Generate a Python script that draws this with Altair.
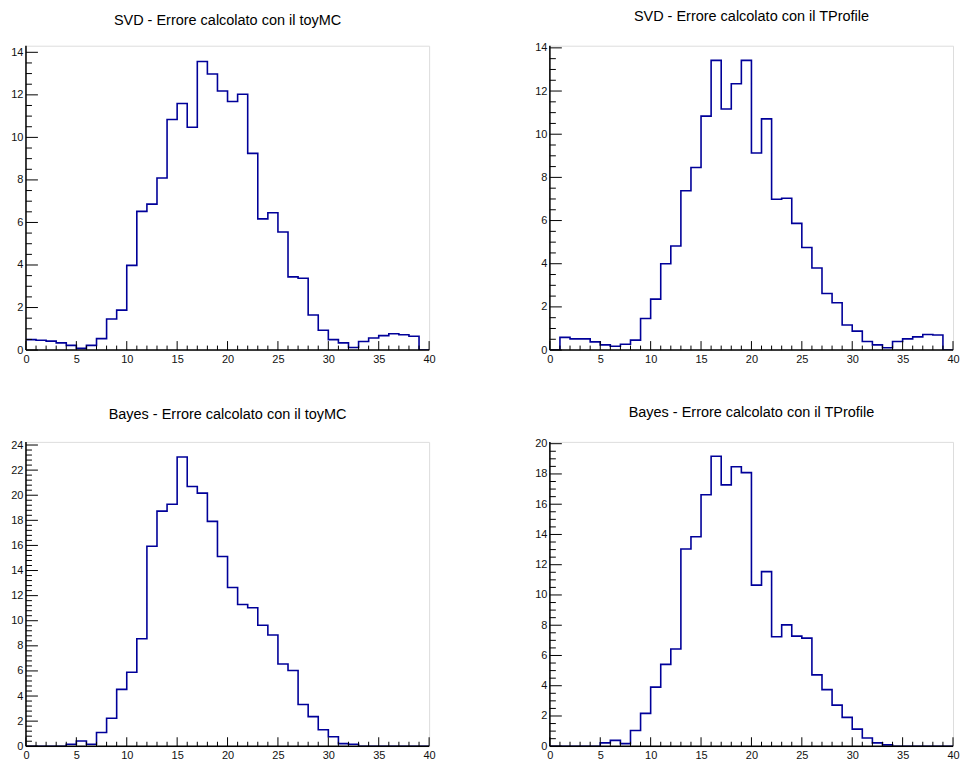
import altair as alt
import pandas as pd

# ---- data (40 bins, 0..40) ----
EDGES = list(range(41))

svd_toymc = [0.49, 0.46, 0.42, 0.34, 0.22, 0.08, 0.22, 0.54, 1.46, 1.88,
             3.98, 6.52, 6.86, 8.09, 10.84, 11.59, 10.48, 13.57, 12.98, 12.18,
             11.69, 12.03, 9.25, 6.17, 6.46, 5.55, 3.44, 3.38, 1.65, 0.93,
             0.49, 0.34, 0.12, 0.40, 0.57, 0.68, 0.77, 0.72, 0.65, 0.0]

svd_tprofile = [0.0, 0.59, 0.52, 0.52, 0.38, 0.24, 0.18, 0.27, 0.46, 1.46,
                2.36, 4.00, 4.82, 7.38, 8.46, 10.84, 13.42, 11.17, 12.34, 13.42,
                9.13, 10.71, 6.99, 7.03, 5.87, 4.75, 3.80, 2.62, 2.19, 1.16,
                0.88, 0.40, 0.24, 0.11, 0.40, 0.52, 0.61, 0.72, 0.70, 0.0]

bayes_toymc = [0.0, 0.0, 0.0, 0.0, 0.16, 0.42, 0.16, 1.10, 2.23, 4.53,
               5.89, 8.57, 15.93, 18.73, 19.28, 23.05, 20.70, 20.17, 17.92, 15.12,
               12.65, 11.29, 11.03, 9.64, 8.86, 6.55, 6.03, 3.33, 2.36, 1.31,
               0.76, 0.21, 0.16, 0.0, 0.0, 0.0, 0.0, 0.0, 0.0, 0.0]

bayes_tprofile = [0.0, 0.0, 0.0, 0.0, 0.0, 0.22, 0.39, 0.17, 1.04, 2.17,
                  3.91, 5.41, 6.43, 13.04, 13.85, 16.63, 19.17, 17.28, 18.48, 18.09,
                  10.65, 11.54, 7.24, 8.02, 7.28, 7.15, 4.72, 3.74, 2.72, 1.91,
                  1.13, 0.54, 0.22, 0.09, 0.0, 0.0, 0.0, 0.0, 0.0, 0.0]

TITLES = ["SVD - Errore calcolato con il toyMC",
          "SVD - Errore calcolato con il TProfile",
          "Bayes - Errore calcolato con il toyMC",
          "Bayes - Errore calcolato con il TProfile"]

Y_MAX = [14.31, 14.1, 24.25, 20.12]
Y_LABEL_STEP = [2, 2, 2, 2]
Y_MINOR_STEP = [0.5, 0.5, 0.4, 0.5]

X_LABELS = [0, 5, 10, 15, 20, 25, 30, 35, 40]
X_MINOR = [i for i in range(41) if i % 5 != 0]

LINE_COLOR = "#000099"
FONT = "Liberation Sans"
W, H = 404, 305


def panel(vals, title, ymax, ystep, yminor):
    xs = alt.Scale(domain=[0, 40], nice=False, zero=False)
    ys = alt.Scale(domain=[0, ymax], nice=False, zero=False)
    df = pd.DataFrame({"x": EDGES, "y": vals + [vals[-1]]})
    n_major = int(ymax // ystep)
    y_labels = [i * ystep for i in range(n_major + 1)]
    n_minor = int(ymax / yminor + 1e-9)
    y_minor = [round(i * yminor, 4) for i in range(n_minor + 1)]
    y_minor = [v for v in y_minor if all(abs(v - m) > 1e-6 for m in y_labels)]

    ax_x = alt.Axis(values=X_LABELS, ticks=False, domain=False, grid=False, title=None,
                    labelPadding=3, labelFlush=False, labelFont=FONT, labelFontSize=11,
                    labelColor="#111", labelOverlap=False)
    ax_y = alt.Axis(values=y_labels, ticks=False, domain=False, grid=False, title=None,
                    labelPadding=3, labelFlush=False, labelFont=FONT, labelFontSize=11,
                    labelColor="#111", labelOverlap=False)

    line = alt.Chart(df).mark_line(
        interpolate="step-after", color=LINE_COLOR, strokeWidth=1.6, clip=True
    ).encode(
        x=alt.X("x:Q", scale=xs, axis=ax_x),
        y=alt.Y("y:Q", scale=ys, axis=ax_y),
    )

    xmaj = alt.Chart(pd.DataFrame({"x": X_LABELS})).mark_rule(color="black", strokeWidth=1).encode(
        x=alt.X("x:Q", scale=xs, axis=ax_x), y=alt.value(H), y2=alt.value(H - 9))
    xmin = alt.Chart(pd.DataFrame({"x": X_MINOR})).mark_rule(color="black", strokeWidth=1).encode(
        x=alt.X("x:Q", scale=xs, axis=ax_x), y=alt.value(H), y2=alt.value(H - 4.5))
    ymaj = alt.Chart(pd.DataFrame({"y": y_labels})).mark_rule(color="black", strokeWidth=1).encode(
        y=alt.Y("y:Q", scale=ys, axis=ax_y), x=alt.value(0), x2=alt.value(12))
    ymin = alt.Chart(pd.DataFrame({"y": y_minor})).mark_rule(color="black", strokeWidth=1).encode(
        y=alt.Y("y:Q", scale=ys, axis=ax_y), x=alt.value(0), x2=alt.value(6))
    xline = alt.Chart(pd.DataFrame({"x": [0.0], "x2": [40.0]})).mark_rule(color="black", strokeWidth=1.5).encode(
        x=alt.X("x:Q", scale=xs, axis=ax_x), x2="x2:Q", y=alt.value(H))
    yline = alt.Chart(pd.DataFrame({"y": [0.0], "y2": [ymax]})).mark_rule(color="black", strokeWidth=1.5).encode(
        y=alt.Y("y:Q", scale=ys, axis=ax_y), y2="y2:Q", x=alt.value(0))

    return alt.layer(line, xmin, xmaj, ymin, ymaj, xline, yline).properties(
        width=W, height=H,
        title=alt.TitleParams(text=title, font=FONT, fontSize=14.5, fontWeight="normal",
                              color="black", anchor="middle", offset=17),
    )


p1 = panel(svd_toymc, TITLES[0], Y_MAX[0], Y_LABEL_STEP[0], Y_MINOR_STEP[0])
p2 = panel(svd_tprofile, TITLES[1], Y_MAX[1], Y_LABEL_STEP[1], Y_MINOR_STEP[1])
p3 = panel(bayes_toymc, TITLES[2], Y_MAX[2], Y_LABEL_STEP[2], Y_MINOR_STEP[2])
p4 = panel(bayes_tprofile, TITLES[3], Y_MAX[3], Y_LABEL_STEP[3], Y_MINOR_STEP[3])

chart = alt.concat(p1, p2, p3, p4, columns=2, spacing={"row": 92, "column": 121},
                   bounds="flush").properties(
    padding={"left": 2, "top": 0, "right": 0, "bottom": 0}
).configure_view(stroke="black", strokeWidth=1).configure(background="white")

chart.save("out.html", embed_options={"renderer": "svg", "actions": False})
